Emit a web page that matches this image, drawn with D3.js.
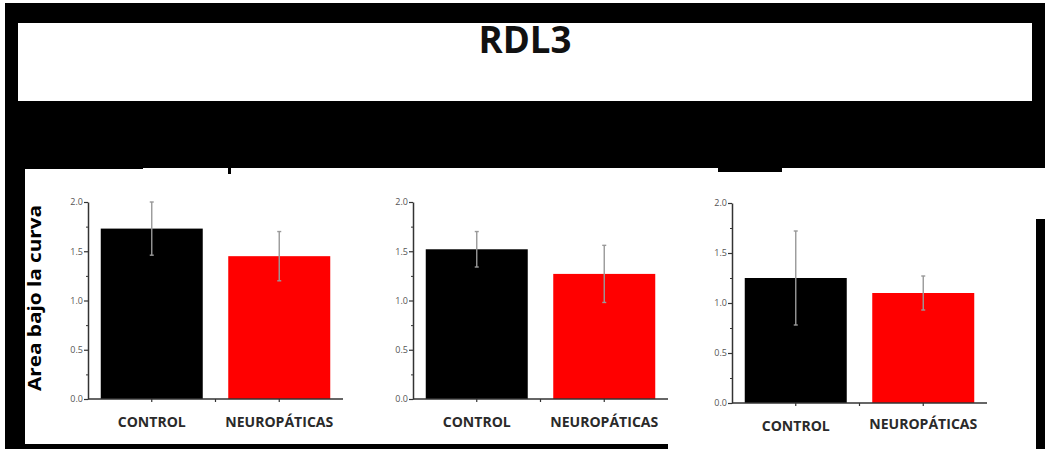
<!DOCTYPE html>
<html>
<head>
<meta charset="utf-8">
<script src="https://cdn.jsdelivr.net/npm/d3@7"></script>
<style>
  html, body { margin: 0; padding: 0; background: #fff; }
  svg { display: block; }
  text { font-family: "Open Sans", "DejaVu Sans", sans-serif; }
</style>
</head>
<body>
<svg id="chart" width="1045" height="449"></svg>
<script>
// Data: area under the curve, control vs. neuropathic groups, three panels
const title = "RDL3";
const yAxisTitle = "Area bajo la curva";
const categories = ["CONTROL", "NEUROPÁTICAS"];
const panel1Means = [1.73, 1.45];
const panel1Errors = [0.27, 0.25];
const panel2Means = [1.52, 1.27];
const panel2Errors = [0.18, 0.29];
const panel3Means = [1.25, 1.10];
const panel3Errors = [0.47, 0.17];
const yTicks = [0, 0.5, 1.0, 1.5, 2.0];
const yMinorTicks = [0.25, 0.75, 1.25, 1.75];
const barColors = ["#000000", "#ff0000"];

const svg = d3.select("#chart");

// Slide backdrop
svg.append("rect").attr("x", 0).attr("y", 0).attr("width", 1045).attr("height", 449).attr("fill", "#fff");
svg.append("rect").attr("x", 5).attr("y", 3).attr("width", 1040).attr("height", 165).attr("fill", "#000");
svg.append("rect").attr("x", 5).attr("y", 3).attr("width", 20).attr("height", 446).attr("fill", "#000");
svg.append("rect").attr("x", 5).attr("y", 444).attr("width", 663).attr("height", 5).attr("fill", "#000");
svg.append("rect").attr("x", 1036).attr("y", 219).attr("width", 9).attr("height", 230).attr("fill", "#000");
svg.append("rect").attr("x", 718).attr("y", 166).attr("width", 64).attr("height", 6).attr("fill", "#000");
svg.append("rect").attr("x", 228).attr("y", 166).attr("width", 3).attr("height", 8).attr("fill", "#000");
svg.append("rect").attr("x", 25).attr("y", 166).attr("width", 118).attr("height", 3).attr("fill", "#000");

// Title box
svg.append("rect").attr("x", 18).attr("y", 23).attr("width", 1014).attr("height", 78).attr("fill", "#fff");
svg.append("text")
  .attr("transform", "translate(525,53) scale(1,1.15)")
  .attr("text-anchor", "middle")
  .attr("font-size", 33).attr("font-weight", 700)
  .attr("textLength", 93).attr("lengthAdjust", "spacingAndGlyphs")
  .attr("fill", "#111")
  .text(title);

// Y axis title
svg.append("text")
  .attr("transform", "translate(41,298) rotate(-90)")
  .attr("text-anchor", "middle")
  .attr("font-size", 17).attr("font-weight", 700)
  .attr("textLength", 186).attr("lengthAdjust", "spacingAndGlyphs")
  .attr("fill", "#000")
  .text(yAxisTitle);

const panels = [
  { means: panel1Means, errors: panel1Errors, x0: 88, x1: 343, top: 202, bottom: 399, labelY: [427, 427] },
  { means: panel2Means, errors: panel2Errors, x0: 413, x1: 668, top: 202, bottom: 399, labelY: [427, 427] },
  { means: panel3Means, errors: panel3Errors, x0: 732, x1: 987, top: 203, bottom: 403, labelY: [431, 429] }
];

const labelWidths = [68, 108];

panels.forEach(p => {
  const x = d3.scaleBand().domain(categories).range([p.x0, p.x1]).paddingInner(0.2).paddingOuter(0.1);
  const y = d3.scaleLinear().domain([0, 2]).range([p.bottom, p.top]);
  const g = svg.append("g");
  const rows = categories.map((c, i) => ({ cat: c, mean: p.means[i], err: p.errors[i], color: barColors[i] }));

  // Bars
  g.selectAll("rect.bar").data(rows).join("rect")
    .attr("class", "bar")
    .attr("x", d => x(d.cat))
    .attr("y", d => y(d.mean))
    .attr("width", x.bandwidth())
    .attr("height", d => y(0) - y(d.mean))
    .attr("fill", d => d.color);

  // Error bars
  const eb = g.selectAll("g.err").data(rows).join("g").attr("class", "err")
    .attr("stroke", "#999").attr("stroke-width", 1.4);
  eb.append("line")
    .attr("x1", d => x(d.cat) + x.bandwidth() / 2).attr("x2", d => x(d.cat) + x.bandwidth() / 2)
    .attr("y1", d => y(d.mean + d.err)).attr("y2", d => y(d.mean - d.err));
  eb.append("line")
    .attr("x1", d => x(d.cat) + x.bandwidth() / 2 - 2).attr("x2", d => x(d.cat) + x.bandwidth() / 2 + 2)
    .attr("y1", d => y(d.mean + d.err)).attr("y2", d => y(d.mean + d.err));
  eb.append("line")
    .attr("x1", d => x(d.cat) + x.bandwidth() / 2 - 2).attr("x2", d => x(d.cat) + x.bandwidth() / 2 + 2)
    .attr("y1", d => y(d.mean - d.err)).attr("y2", d => y(d.mean - d.err));

  // Y axis with major and minor ticks
  const yAxis = g.append("g").attr("transform", `translate(${p.x0},0)`)
    .call(d3.axisLeft(y).tickValues(yTicks).tickFormat(d3.format(".1f")).tickSize(4).tickSizeOuter(0));
  yAxis.select(".domain").attr("stroke", "#333").attr("stroke-width", 1.5);
  yAxis.selectAll(".tick line").attr("stroke", "#333").attr("stroke-width", 1.2);
  yAxis.selectAll(".tick text").attr("font-size", 9).attr("fill", "#555").attr("x", -5)
    .style("font-family", "'Open Sans', sans-serif");
  g.append("g").attr("transform", `translate(${p.x0},0)`)
    .call(d3.axisLeft(y).tickValues(yMinorTicks).tickFormat("").tickSize(2).tickSizeOuter(0))
    .call(a => a.select(".domain").remove())
    .selectAll(".tick line").attr("stroke", "#333").attr("stroke-width", 1);

  // X axis: ticks at category centres, minor tick between categories
  const xAxis = g.append("g").attr("transform", `translate(0,${p.bottom})`)
    .call(d3.axisBottom(x).tickSize(3).tickSizeOuter(0).tickFormat(""));
  xAxis.select(".domain").attr("stroke", "#333").attr("stroke-width", 1.5)
    .attr("d", `M${p.x0},0H${p.x1}`);
  xAxis.selectAll(".tick line").attr("stroke", "#333").attr("stroke-width", 1.2);
  const mid = (x(categories[0]) + x.bandwidth() + x(categories[1])) / 2;
  g.append("line").attr("x1", mid).attr("x2", mid).attr("y1", p.bottom).attr("y2", p.bottom + 3)
    .attr("stroke", "#333").attr("stroke-width", 1.2);

  // Category labels
  g.selectAll("text.cat").data(rows).join("text")
    .attr("class", "cat")
    .attr("x", d => x(d.cat) + x.bandwidth() / 2)
    .attr("y", (d, i) => p.labelY[i])
    .attr("text-anchor", "middle")
    .attr("font-size", 13.5).attr("font-weight", 700)
    .attr("textLength", (d, i) => labelWidths[i]).attr("lengthAdjust", "spacingAndGlyphs")
    .attr("fill", "#2a2a2a")
    .text(d => d.cat);
});
</script>
</body>
</html>
